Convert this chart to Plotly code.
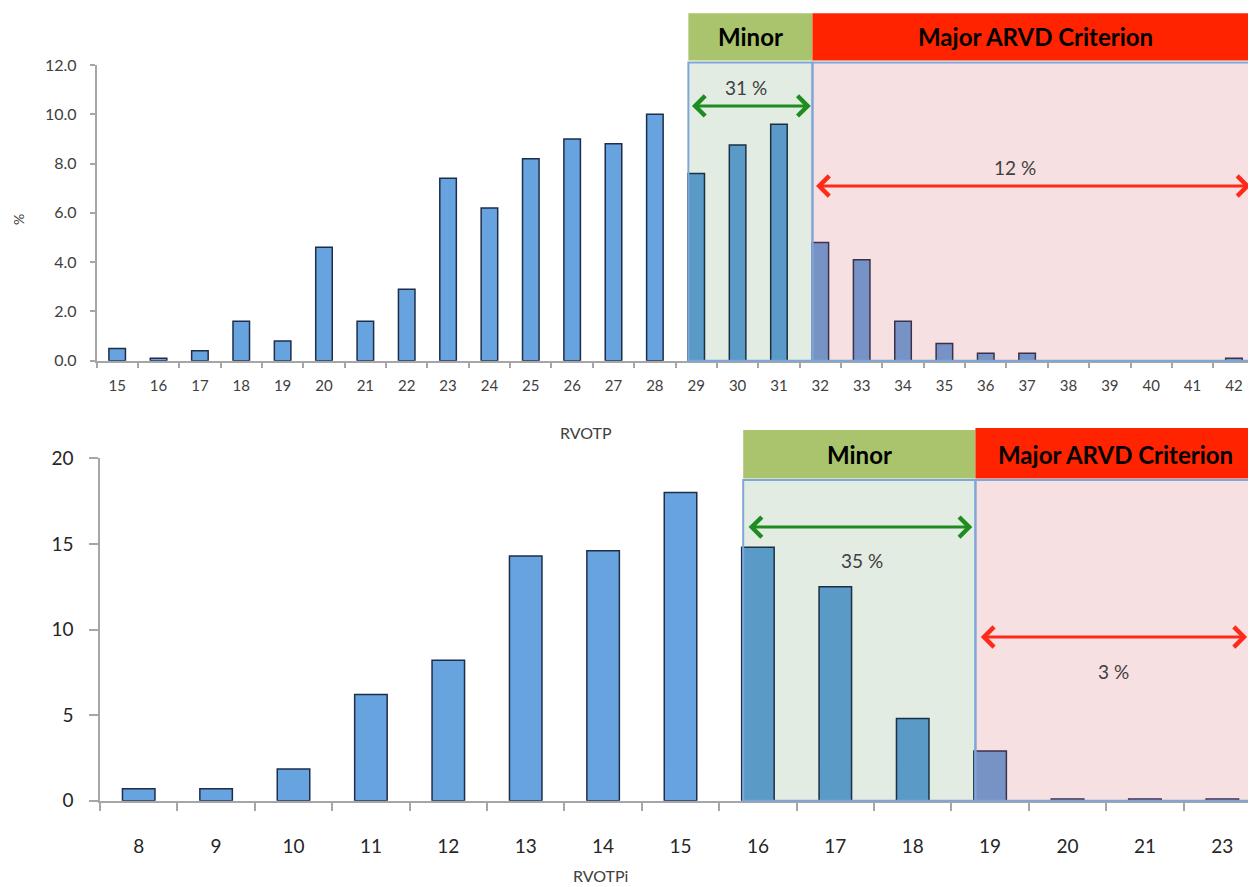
import plotly.graph_objects as go

# ---------------- data ----------------
top_categories = [str(v) for v in range(15, 43)]
top_values = [0.5, 0.1, 0.4, 1.6, 0.8, 4.6, 1.6, 2.9, 7.4, 6.2, 8.2, 9.0, 8.8, 10.0,
              7.6, 8.75, 9.6, 4.8, 4.1, 1.6, 0.7, 0.3, 0.3, 0.0, 0.0, 0.0, 0.0, 0.1]
top_minor_label = "31 %"
top_major_label = "12 %"

bottom_categories = ["8", "9", "10", "11", "12", "13", "14", "15", "16", "17",
                     "18", "19", "20", "21", "23"]
bottom_values = [0.7, 0.7, 1.85, 6.2, 8.2, 14.3, 14.6, 18.0, 14.8, 12.5,
                 4.8, 2.9, 0.1, 0.1, 0.1]
bottom_minor_label = "35 %"
bottom_major_label = "3 %"

top_ytickvals = [0, 2, 4, 6, 8, 10, 12]
bottom_ytickvals = [0, 5, 10, 15, 20]

# ---------------- styling ----------------
OFF = 8                      # page body margin
W, H = 1256 - OFF, 887 - OFF
BAR_COLOR = "#66A3DF"
BAR_LINE = "#1F2D4A"
AXIS_COLOR = "#A6A6A6"
TEXT_COLOR = "#404040"
FONT = "Lato"
MINOR_HEAD = "#A9C46D"
MAJOR_HEAD = "#FF2300"
MINOR_FILL = "rgba(0,82,0,0.11)"
MAJOR_FILL = "rgba(208,72,78,0.17)"
REGION_LINE = "#7EA6D8"


def py(px):
    """screen pixel row -> paper y"""
    return 1 - (px - OFF) / H


def pxx(px):
    """screen pixel column -> paper x"""
    return (px - OFF) / W


fig = go.Figure()
fig.add_trace(go.Bar(x=top_categories, y=top_values, xaxis="x", yaxis="y",
                     marker=dict(color=BAR_COLOR, line=dict(color=BAR_LINE, width=1.5)),
                     width=0.4, hoverinfo="x+y"))
fig.add_trace(go.Bar(x=bottom_categories, y=bottom_values, xaxis="x2", yaxis="y2",
                     marker=dict(color=BAR_COLOR, line=dict(color=BAR_LINE, width=1.5)),
                     width=0.42, hoverinfo="x+y"))

common_x = dict(type="category", showline=True, linecolor=AXIS_COLOR, linewidth=1.5,
                ticks="outside", tickson="boundaries", tickcolor=AXIS_COLOR, tickwidth=1.5,
                showgrid=False, zeroline=False, fixedrange=True, automargin=False)
common_y = dict(showline=True, linecolor=AXIS_COLOR, linewidth=1.5, ticks="outside",
                tickcolor=AXIS_COLOR, tickwidth=1.5, showgrid=False, zeroline=False,
                fixedrange=True, automargin=False)

fig.update_layout(
    width=W, height=H, margin=dict(l=0, r=0, t=0, b=0, autoexpand=False),
    paper_bgcolor="white", plot_bgcolor="white", showlegend=False,
    font=dict(family=FONT, color=TEXT_COLOR),
    xaxis=dict(common_x, domain=[pxx(96.5), pxx(1254.6)], range=[-0.5, 27.5],
               anchor="y", ticklen=6, ticklabelstandoff=11,
               tickfont=dict(size=15, color=TEXT_COLOR)),
    yaxis=dict(common_y, domain=[py(360.7), py(65)], range=[0, 12], anchor="x",
               tickvals=top_ytickvals, tickformat=".1f", ticklen=5, ticklabelstandoff=10,
               tickfont=dict(size=16, color=TEXT_COLOR)),
    xaxis2=dict(common_x, domain=[pxx(100), 1.0], range=[-0.5, 14.435],
                anchor="y2", ticklen=9, ticklabelstandoff=28,
                tickfont=dict(size=19, color="#262626")),
    yaxis2=dict(common_y, domain=[py(800.7), py(458.3)], range=[0, 20], anchor="x2",
                tickvals=bottom_ytickvals, ticklen=9, ticklabelstandoff=12,
                tickfont=dict(size=19, color="#262626")),
)

shapes = []
annotations = []


def add_regions(xref, yref, cats, minor_cat, major_cat, inner_end, head_end,
                head_top, head_bot, major_head_top, inner_top, axis_bot,
                arrow_minor_y, arrow_major_y, minor_text, major_text,
                minor_text_pos, major_text_pos, head_size, pct_size):
    m0 = cats.index(minor_cat) - 0.19
    m1 = cats.index(major_cat) - 0.19
    shapes.append(dict(type="rect", layer="above", xref=xref, yref="paper",
                       x0=m0, x1=m1, y0=py(axis_bot), y1=py(inner_top),
                       fillcolor=MINOR_FILL, line=dict(color=REGION_LINE, width=2)))
    shapes.append(dict(type="rect", layer="above", xref=xref, yref="paper",
                       x0=m1, x1=inner_end, y0=py(axis_bot), y1=py(inner_top),
                       fillcolor=MAJOR_FILL, line=dict(color=REGION_LINE, width=2)))
    shapes.append(dict(type="rect", layer="above", xref=xref, yref="paper",
                       x0=m0, x1=m1, y0=py(head_bot), y1=py(head_top),
                       fillcolor=MINOR_HEAD, line=dict(width=0)))
    shapes.append(dict(type="rect", layer="above", xref=xref, yref="paper",
                       x0=m1, x1=head_end, y0=py(head_bot), y1=py(major_head_top),
                       fillcolor=MAJOR_HEAD, line=dict(width=0)))
    hy = (py(head_top) + py(head_bot)) / 2
    annotations.append(dict(xref=xref, yref="paper", x=(m0 + m1) / 2, y=hy,
                            xanchor="center", yanchor="middle",
                            text="<b>Minor</b>", showarrow=False,
                            font=dict(size=head_size, color="black", family=FONT)))
    annotations.append(dict(xref=xref, yref="paper", x=(m1 + head_end) / 2, y=hy,
                            xanchor="center", yanchor="middle",
                            text="<b>Major ARVD Criterion</b>", showarrow=False,
                            font=dict(size=head_size, color="black", family=FONT)))
    for (a0, a1, ay, col) in [(m0 + 0.05, m1 - 0.04, arrow_minor_y, "#1E8C1E"),
                              (m1 + 0.05, inner_end - 0.04, arrow_major_y, "#FF2A1A")]:
        annotations.append(dict(xref=xref, yref=yref, x=a1, y=ay,
                                axref=xref, ayref=yref, ax=a0, ay=ay,
                                text="", showarrow=True, arrowside="end+start",
                                arrowhead=4, arrowsize=1.3, arrowwidth=3,
                                arrowcolor=col, standoff=0, startstandoff=0))
    annotations.append(dict(xref=xref, yref=yref, x=minor_text_pos[0], y=minor_text_pos[1],
                            xanchor="center", yanchor="middle",
                            text=minor_text, showarrow=False,
                            font=dict(size=pct_size, color=TEXT_COLOR)))
    annotations.append(dict(xref=xref, yref=yref, x=major_text_pos[0], y=major_text_pos[1],
                            xanchor="center", yanchor="middle",
                            text=major_text, showarrow=False,
                            font=dict(size=pct_size, color=TEXT_COLOR)))


add_regions("x", "y", top_categories, "29", "32", inner_end=27.44, head_end=27.6,
            head_top=13.3, head_bot=60.5, major_head_top=13.3, inner_top=62.6,
            axis_bot=360.7, arrow_minor_y=10.34, arrow_major_y=7.09,
            minor_text=top_minor_label, major_text=top_major_label,
            minor_text_pos=(15.2, 11.07), major_text_pos=(21.7, 7.82),
            head_size=24, pct_size=19)

add_regions("x2", "y2", bottom_categories, "16", "19", inner_end=14.36, head_end=14.42,
            head_top=430, head_bot=478.5, major_head_top=428, inner_top=480,
            axis_bot=800.7, arrow_minor_y=15.98, arrow_major_y=9.56,
            minor_text=bottom_minor_label, major_text=bottom_major_label,
            minor_text_pos=(9.34, 14.05), major_text_pos=(12.6, 7.52),
            head_size=24, pct_size=19)

annotations.append(dict(xref="paper", yref="paper", x=pxx(18), y=py(220), text="%",
                        xanchor="center", yanchor="middle",
                        textangle=-90, showarrow=False, font=dict(size=14, color=TEXT_COLOR)))
annotations.append(dict(xref="paper", yref="paper", x=pxx(586), y=py(433), text="RVOTP",
                        xanchor="center", yanchor="middle",
                        showarrow=False, font=dict(size=16, color=TEXT_COLOR)))
annotations.append(dict(xref="paper", yref="paper", x=pxx(600), y=py(875), text="RVOTPi",
                        xanchor="center", yanchor="middle",
                        showarrow=False, font=dict(size=16, color=TEXT_COLOR)))

fig.update_layout(shapes=shapes, annotations=annotations)
fig.write_html("out.html")
